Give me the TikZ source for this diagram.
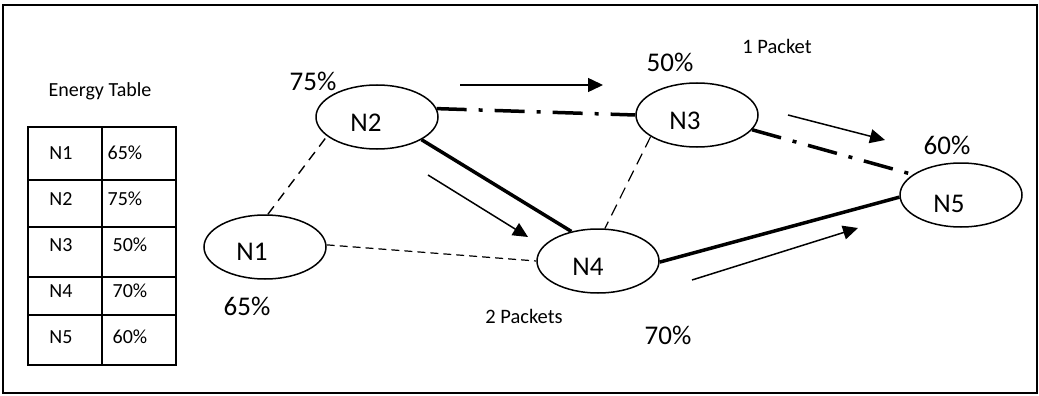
\documentclass[tikz,border=0pt]{standalone}
\usepackage{fontspec}
\setmainfont{Carlito}
\usetikzlibrary{shapes.geometric,arrows.meta}
\tikzset{
  nodeell/.style={draw, line width=1.5pt, ellipse, minimum width=122pt, minimum height=64pt, inner sep=0pt},
  nlab/.style={font=\fontsize{27}{32}\selectfont, inner sep=0pt, anchor=base},
  plab/.style={font=\fontsize{27}{32}\selectfont, inner sep=0pt, anchor=base},
  slab/.style={font=\fontsize{20.5}{24}\selectfont, inner sep=0pt, anchor=base},
  tlab/.style={font=\fontsize{20}{24}\selectfont, inner sep=0pt, anchor=base},
  thickline/.style={line width=3.5pt},
  dashdotline/.style={line width=3.5pt, dash pattern=on 30pt off 12pt on 4pt off 12pt},
  dashlineA/.style={line width=1.4pt, dash pattern=on 10pt off 7pt},
  dashlineB/.style={line width=1.2pt, dash pattern=on 8pt off 5pt},
  dashlineC/.style={line width=1.2pt, dash pattern=on 12pt off 7pt},
  flowarrow/.style={line width=1.5pt, -{Triangle[length=15pt,width=14pt]}},
  tblline/.style={line width=1.5pt}
}
\begin{document}
\begin{tikzpicture}[x=1pt,y=-1pt]
\useasboundingbox (0,0) rectangle (1039,396);
\draw[line width=1.3pt] (3,5) rectangle (1037,393);

% Energy table
\node[tlab] (etitle) at (100,96) {Energy Table};
\draw[tblline] (28,127) rectangle (176,365);
\draw[tblline] (102,127) -- (102,365);
\foreach \yy in {180,227,277,315} \draw[tblline] (28,\yy) -- (176,\yy);
\node[tlab] (t1a) at (61,159) {N1};
\node[tlab] (t1b) at (125,159) {65\%};
\node[tlab] (t2a) at (61,205) {N2};
\node[tlab] (t2b) at (125,205) {75\%};
\node[tlab] (t3a) at (61,251) {N3};
\node[tlab] (t3b) at (130,251) {50\%};
\node[tlab] (t4a) at (61,297) {N4};
\node[tlab] (t4b) at (130,297) {70\%};
\node[tlab] (t5a) at (61,343) {N5};
\node[tlab] (t5b) at (130,343) {60\%};

% Nodes
\node[nodeell] (n1) at (265,247) {};
\node[nodeell] (n2) at (377,117) {};
\node[nodeell] (n3) at (697,115) {};
\node[nodeell] (n4) at (598,261) {};
\node[nodeell] (n5) at (961,195) {};
\node[nlab] (n1t) at (252,260) {N1};
\node[nlab] (n2t) at (366,131) {N2};
\node[nlab] (n3t) at (685,129) {N3};
\node[nlab] (n4t) at (588,275) {N4};
\node[nlab] (n5t) at (949,212) {N5};

% Percent labels
\node[plab] (p2) at (313,90) {75\%};
\node[plab] (p1) at (247,315) {65\%};
\node[plab] (p3) at (670,72) {50\%};
\node[plab] (p5) at (947,154) {60\%};
\node[plab] (p4) at (668,344) {70\%};
\node[slab] (s1) at (777,54) {1 Packet};
\node[slab] (s2) at (524,323) {2 Packets};

% Links
\draw[dashlineA] (n1.85) -- (n2.201);
\draw[dashlineB] (n1.2) -- (n4.180);
\draw[dashdotline] (n2.8) -- (n3.180);
\draw[thickline] (n2.-27) -- (n4.132);
\draw[dashlineC] (n3.205) -- (n4.78);
\draw[dashdotline] (n3.-15) -- (n5.157);
\draw[thickline] (n4.-1) -- (n5.182);

% Flow arrows
\coordinate (a1s) at (460,85);  \coordinate (a1e) at (603,85);
\coordinate (a2s) at (428,175); \coordinate (a2e) at (528,237);
\coordinate (a3s) at (788,115); \coordinate (a3e) at (885,140);
\coordinate (a4s) at (692,280); \coordinate (a4e) at (858,228);
\draw[flowarrow] (a1s) -- (a1e);
\draw[flowarrow] (a2s) -- (a2e);
\draw[flowarrow] (a3s) -- (a3e);
\draw[flowarrow] (a4s) -- (a4e);
\end{tikzpicture}
\end{document}
